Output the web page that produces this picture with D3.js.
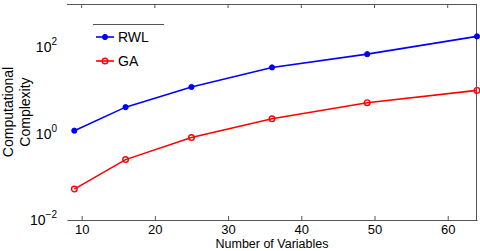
<!DOCTYPE html>
<html>
<head>
<meta charset="utf-8">
<script src="https://cdn.jsdelivr.net/npm/d3@7"></script>
<style>
  body { margin: 0; background: #fff; }
  text { font-family: "Liberation Sans", Arial, sans-serif; fill: #000; }
</style>
</head>
<body>
<div id="chart"></div>
<script>
// data
const numVars = [9, 16, 25, 36, 49, 64];
const rwl = [1.17, 4.1, 12, 34, 69, 178];
const ga = [0.052, 0.25, 0.81, 2.2, 5.2, 10];
const xTicks = [10, 20, 30, 40, 50, 60];
const yTickExp = [-2, 0, 2];

const W = 480, H = 251;
const margin = { top: 4, right: 3, bottom: 31, left: 67 };
const width = W - margin.left - margin.right;
const height = H - margin.top - margin.bottom;
const axisColor = "#555";

const svg = d3.select("#chart").append("svg")
  .attr("width", W)
  .attr("height", H);

const g = svg.append("g")
  .attr("transform", `translate(${margin.left},${margin.top})`);

const x = d3.scaleLinear().domain([8, 64]).range([0, width]);
const y = d3.scaleLog().domain([1e-2, 1e3]).range([height, 0]);

// frame: top, right, bottom (left edge not visible in the original)
g.append("line").attr("x1", 0).attr("x2", width).attr("y1", 0.5).attr("y2", 0.5)
  .attr("stroke", axisColor);
g.append("line").attr("x1", width - 0.5).attr("x2", width - 0.5).attr("y1", 0).attr("y2", height)
  .attr("stroke", axisColor);

// bottom axis with ticks pointing inwards
const xAxis = d3.axisBottom(x).tickValues(xTicks).tickSizeInner(-4).tickSizeOuter(0).tickPadding(0);
const xg = g.append("g").attr("transform", `translate(0,${height})`).call(xAxis);
xg.select(".domain").attr("stroke", axisColor);
xg.selectAll(".tick line").attr("stroke", axisColor);
xg.selectAll(".tick text").style("font-size", "13px")
  .attr("y", 13.8).attr("dy", null);

// top ticks
g.selectAll(".topTick").data(xTicks).enter().append("line")
  .attr("x1", d => x(d)).attr("x2", d => x(d))
  .attr("y1", 0).attr("y2", 4)
  .attr("stroke", axisColor);

// y tick labels 10^n
const yl = g.selectAll(".ylab").data(yTickExp).enter().append("text")
  .attr("x", -10)
  .attr("y", d => y(Math.pow(10, d)) + 5)
  .attr("text-anchor", "end")
  .style("font-size", "14px");
yl.append("tspan").text("10");
yl.append("tspan").attr("dy", -7).style("font-size", "10px").text(d => d < 0 ? "\u2212" + (-d) : d);

// axis titles
svg.append("text")
  .attr("x", margin.left + x(36))
  .attr("y", 248)
  .attr("text-anchor", "middle")
  .style("font-size", "12.5px")
  .text("Number of Variables");

const yTitle = svg.append("text")
  .attr("transform", "translate(13,112) rotate(-90)")
  .attr("text-anchor", "middle")
  .style("font-size", "14px");
yTitle.append("tspan").attr("x", 0).attr("y", 0).text("Computational");
yTitle.append("tspan").attr("x", 0).attr("y", 17).text("Complexity");

// series
const line = d3.line()
  .x(d => x(d[0]))
  .y(d => y(d[1]));

const series = [
  { name: "RWL", values: rwl, color: "#0000ff", filled: true },
  { name: "GA", values: ga, color: "#ff0000", filled: false }
];

series.forEach(s => {
  const pts = numVars.map((v, i) => [v, s.values[i]]);
  g.append("path")
    .datum(pts)
    .attr("fill", "none")
    .attr("stroke", s.color)
    .attr("stroke-width", 1.6)
    .attr("d", line);
  g.selectAll(null).data(pts).enter().append("circle")
    .attr("cx", d => x(d[0]))
    .attr("cy", d => y(d[1]))
    .attr("r", s.filled ? 2.6 : 2.8)
    .attr("fill", s.filled ? s.color : "none")
    .attr("stroke", s.color)
    .attr("stroke-width", s.filled ? 1 : 1.4);
});

// legend (only the top edge of its box shows)
const legend = svg.append("g");
legend.append("line")
  .attr("x1", 93).attr("x2", 164).attr("y1", 24.5).attr("y2", 24.5)
  .attr("stroke", axisColor);
series.forEach((s, i) => {
  const ly = 37 + i * 24;
  legend.append("line")
    .attr("x1", 96).attr("x2", 114).attr("y1", ly).attr("y2", ly)
    .attr("stroke", s.color).attr("stroke-width", 1.6);
  legend.append("circle")
    .attr("cx", 105).attr("cy", ly).attr("r", s.filled ? 2.6 : 2.8)
    .attr("fill", s.filled ? s.color : "none")
    .attr("stroke", s.color)
    .attr("stroke-width", s.filled ? 1 : 1.4);
  legend.append("text")
    .attr("x", 118).attr("y", ly + 5)
    .style("font-size", "14px")
    .text(s.name);
});
</script>
</body>
</html>
